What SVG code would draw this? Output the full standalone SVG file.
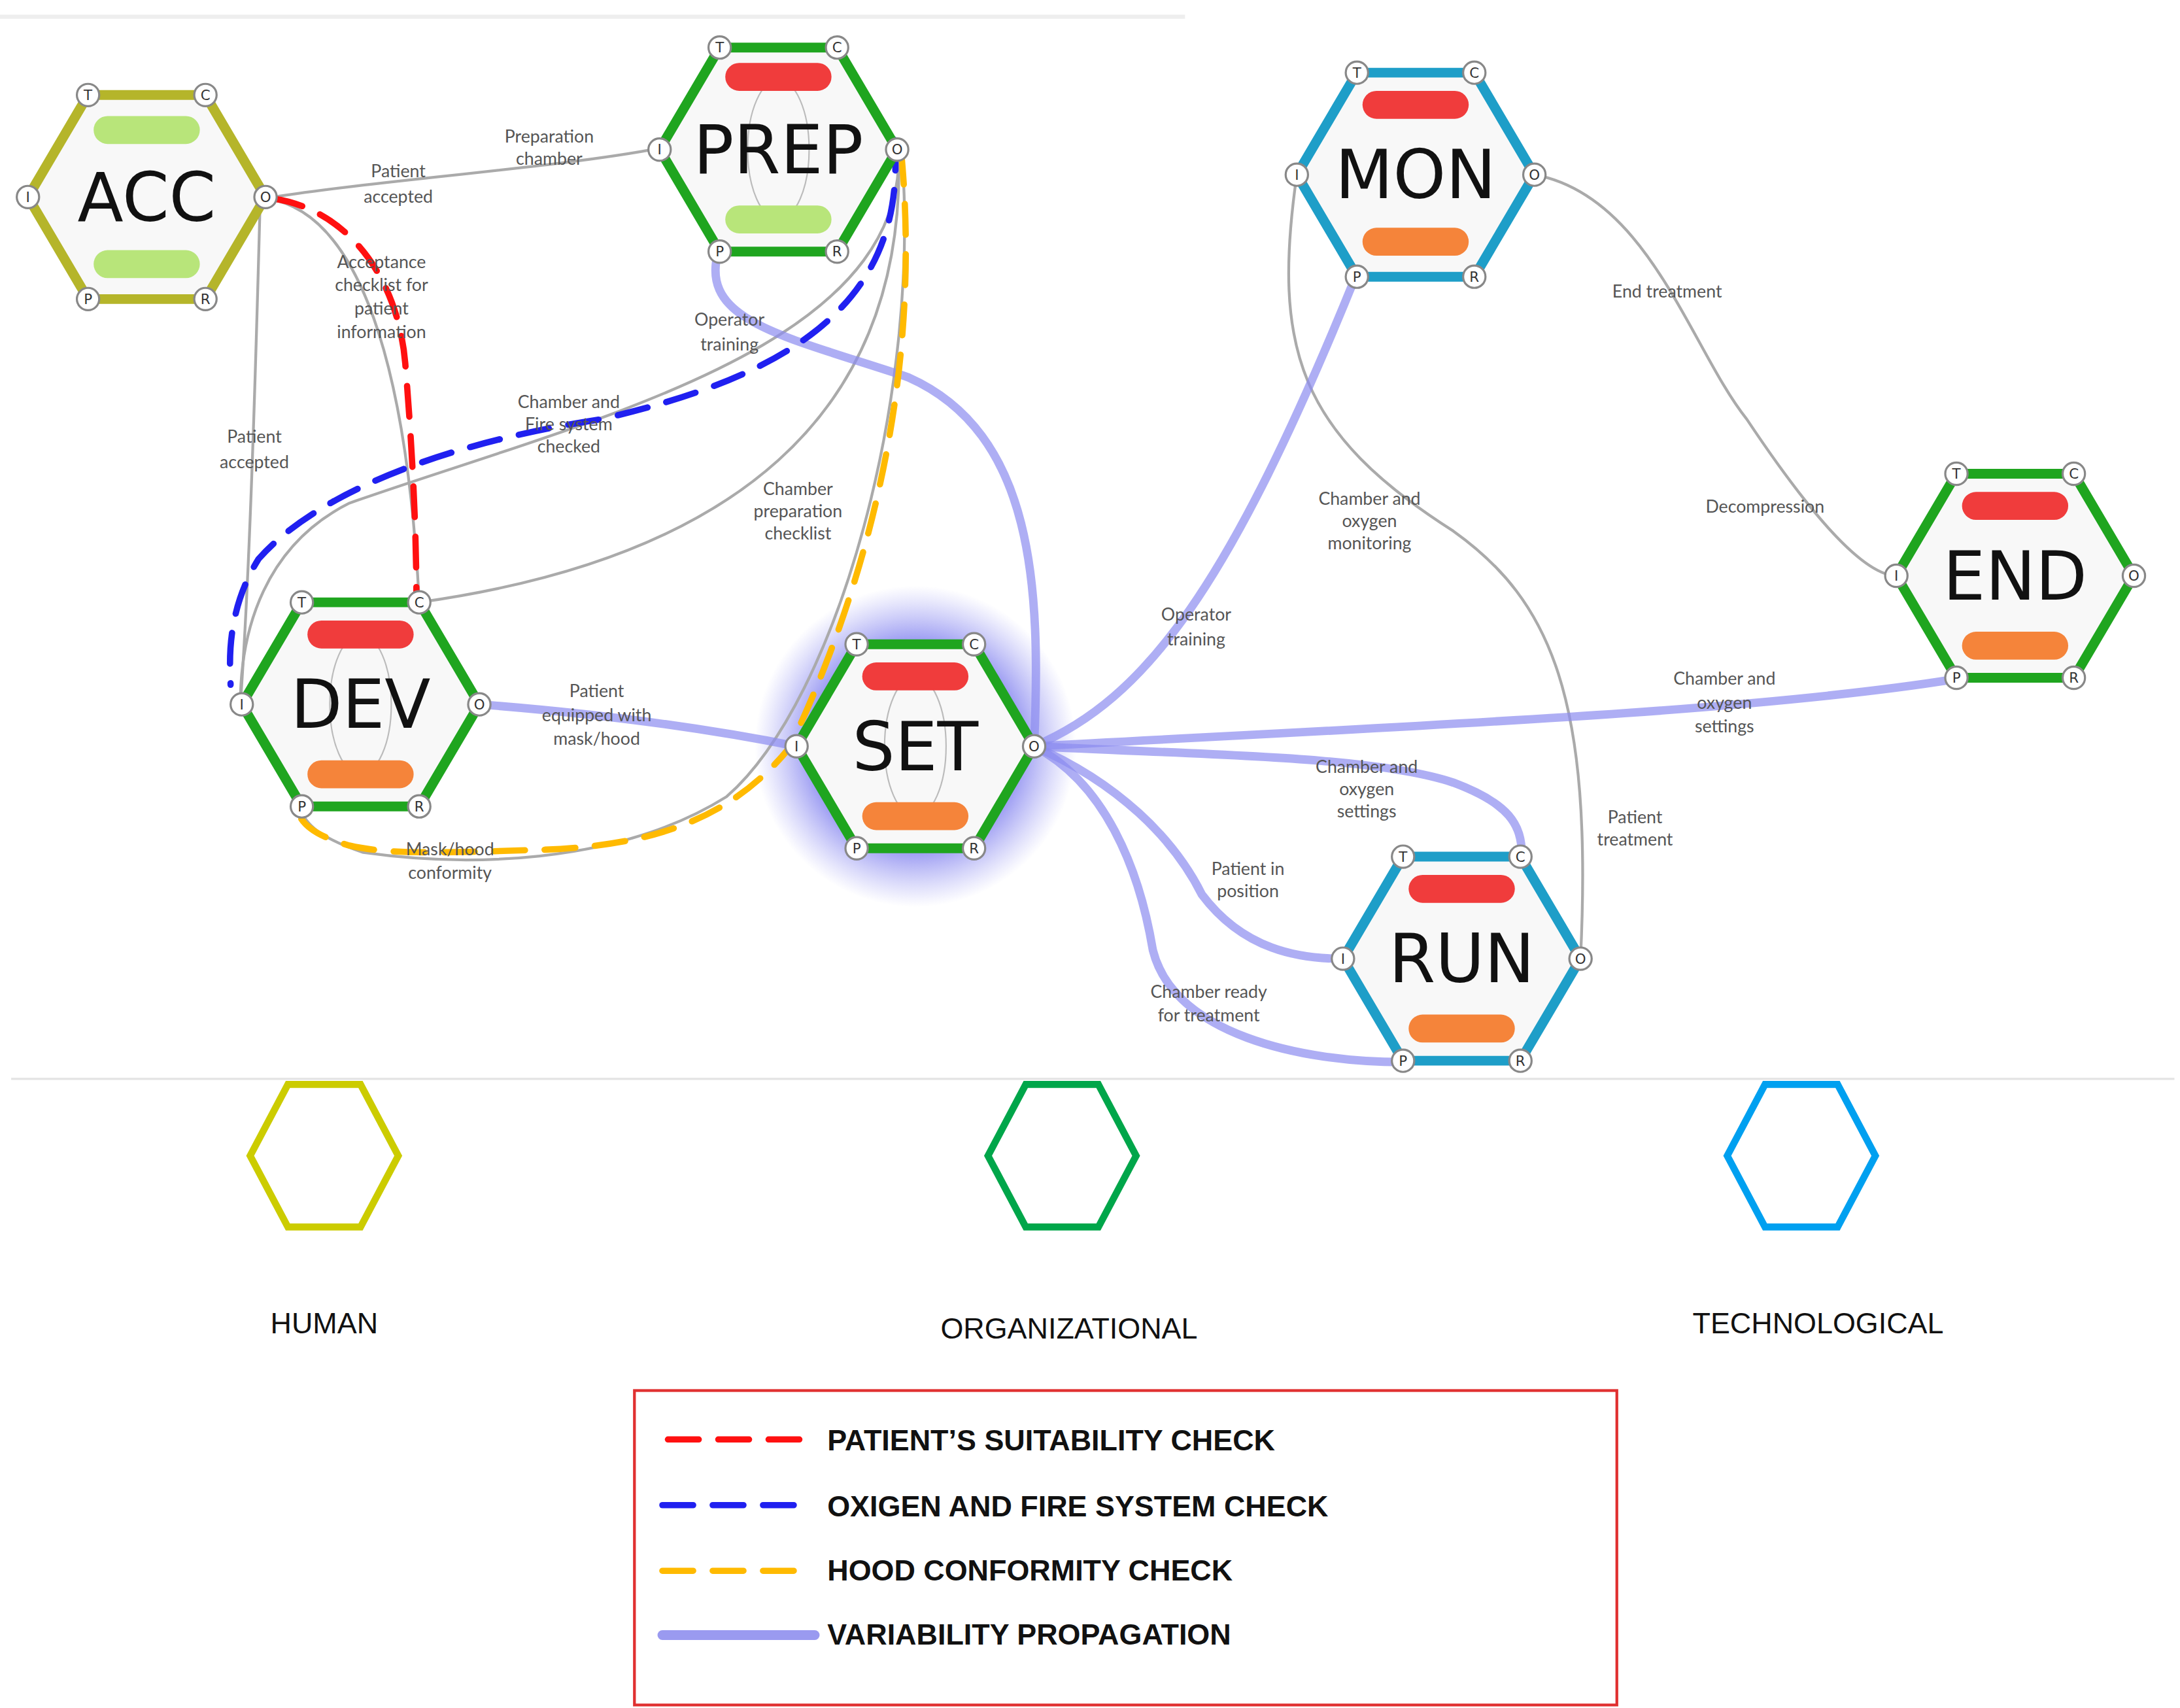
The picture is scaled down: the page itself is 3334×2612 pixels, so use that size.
<svg xmlns="http://www.w3.org/2000/svg" width="3334" height="2612" viewBox="0 0 3334 2612">
<defs>
<path id="hex" d="M-42,-73 L42,-73 L85,0 L42,73 L-42,73 L-85,0 Z"/>
<radialGradient id="glow"><stop offset="0.5" stop-color="#5050e8" stop-opacity="0.9"/><stop offset="1" stop-color="#8080f0" stop-opacity="0"/></radialGradient>
<g id="ports">
<circle cx="-42" cy="-73" r="8"/><text x="-42" y="-69.5">T</text>
<circle cx="42" cy="-73" r="8"/><text x="42" y="-69.5">C</text>
<circle cx="-85" cy="0" r="8"/><text x="-85" y="3.5">I</text>
<circle cx="85" cy="0" r="8"/><text x="85" y="3.5">O</text>
<circle cx="-42" cy="73" r="8"/><text x="-42" y="76.5">P</text>
<circle cx="42" cy="73" r="8"/><text x="42" y="76.5">R</text>
</g>
</defs>
<style>
.hx{fill:#f8f8f8;stroke-width:7;stroke-linejoin:miter}
.g{stroke:#1fa51f}.b{stroke:#1e9ec8}.o{stroke:#b5b52a}
#ports circle{fill:#fff;stroke:#888;stroke-width:1.5}
#ports text{font-family:"DejaVu Sans",sans-serif;font-size:10px;text-anchor:middle;fill:#333}
.nm{font-family:"DejaVu Sans",sans-serif;font-size:48px;text-anchor:middle;fill:#111}
.lb{font-family:"Lato","DejaVu Sans",sans-serif;font-size:12.5px;text-anchor:middle;fill:#555}
.gl{fill:none;stroke:#aaa;stroke-width:2}
.pl{fill:none;stroke:#8c8cf0;stroke-opacity:0.7;stroke-width:6;stroke-linecap:round}
.dash{fill:none;stroke-width:4.5;stroke-dasharray:22 14;stroke-linecap:round}
.lg{font-family:"Liberation Sans",Arial,sans-serif;font-size:21px;font-weight:bold;fill:#111}
.cat{font-family:"Liberation Sans",Arial,sans-serif;font-size:21px;fill:#111;text-anchor:middle}
.lens{fill:none;stroke:#bbb;stroke-width:1}
</style>
<rect width="3334" height="2612" fill="#fff"/>
<g transform="scale(2.1372)">
<line x1="0" y1="12" x2="848" y2="12" stroke="#eee" stroke-width="3"/>
<line x1="8" y1="772" x2="1556" y2="772" stroke="#e4e4e4" stroke-width="1.5"/>
<circle cx="655" cy="534" r="115" fill="url(#glow)"/>
<g id="connectors">
<path class="gl" d="M190,142 C260,130 400,120 472,106"/>
<path class="gl" d="M190,142 C250,150 290,240 300,431"/>
<path class="gl" d="M186,150 C182,300 178,420 172,504"/>
<path class="gl" d="M643,106 C650,300 520,400 300,431"/>
<path class="gl" d="M643,106 C650,250 420,300 250,360 C190,390 172,450 172,504"/>
<path class="gl" d="M645,106 C660,280 600,500 520,570 C440,620 330,620 260,610 C230,600 218,590 215,578"/>
<path class="gl" d="M928,125 C910,250 930,310 1040,380 C1110,430 1140,500 1131,686"/>
<path class="gl" d="M1098,125 C1180,140 1210,250 1250,300 C1290,360 1330,410 1356,412"/>
<path class="pl" d="M514,180 C500,230 560,240 650,270 C740,310 745,420 740,534"/>
<path class="pl" d="M343,504 C420,510 500,520 570,534"/>
<path class="pl" d="M740,534 C820,500 880,420 970,198"/>
<path class="pl" d="M740,534 C1000,520 1250,510 1399,486"/>
<path class="pl" d="M740,534 C850,540 980,540 1040,560 C1080,575 1089,590 1089,612"/>
<path class="pl" d="M740,534 C800,560 840,600 860,640 C890,680 930,686 960,686"/>
<path class="pl" d="M740,534 C790,560 815,620 825,680 C840,740 930,760 1004,760"/>
<path class="dash" stroke="#ff1010" d="M195,142 C250,150 285,200 290,260 C295,320 298,380 298,430"/>
<path class="dash" stroke="#2020f0" d="M640,100 C650,220 560,270 430,300 C300,320 220,360 185,400 C160,440 165,480 165,490"/>
<path class="dash" stroke="#ffba00" d="M645,110 C660,270 620,420 565,535 C520,590 460,605 390,608 C320,610 280,612 250,605 C225,598 218,590 215,585"/>
</g>
<g class="lb">
<text x="285" y="127">Patient</text><text x="285" y="145">accepted</text>
<text x="393" y="102">Preparation</text><text x="393" y="118">chamber</text>
<text x="273" y="192">Acceptance</text><text x="273" y="208">checklist for</text><text x="273" y="225">patient</text><text x="273" y="242">information</text>
<text x="182" y="317">Patient</text><text x="182" y="335">accepted</text>
<text x="522" y="233">Operator</text><text x="522" y="251">training</text>
<text x="407" y="292">Chamber and</text><text x="407" y="308">Fire system</text><text x="407" y="324">checked</text>
<text x="571" y="354">Chamber</text><text x="571" y="370">preparation</text><text x="571" y="386">checklist</text>
<text x="427" y="499">Patient</text><text x="427" y="516">equipped with</text><text x="427" y="533">mask/hood</text>
<text x="322" y="612">Mask/hood</text><text x="322" y="629">conformity</text>
<text x="856" y="444">Operator</text><text x="856" y="462">training</text>
<text x="980" y="361">Chamber and</text><text x="980" y="377">oxygen</text><text x="980" y="393">monitoring</text>
<text x="1193" y="213">End treatment</text>
<text x="1263" y="367">Decompression</text>
<text x="1234" y="490">Chamber and</text><text x="1234" y="507">oxygen</text><text x="1234" y="524">settings</text>
<text x="978" y="553">Chamber and</text><text x="978" y="569">oxygen</text><text x="978" y="585">settings</text>
<text x="1170" y="589">Patient</text><text x="1170" y="605">treatment</text>
<text x="893" y="626">Patient in</text><text x="893" y="642">position</text>
<text x="865" y="714">Chamber ready</text><text x="865" y="731">for treatment</text>
</g>
<g id="ACC" transform="translate(105,141)">
<use href="#hex" class="hx o"/>
<rect x="-38" y="-58" width="76" height="20" rx="10" fill="#b8e57a"/><rect x="-38" y="38" width="76" height="20" rx="10" fill="#b8e57a"/>
<text class="nm" y="17">ACC</text><use href="#ports"/>
</g>
<g id="PREP" transform="translate(557,107)">
<use href="#hex" class="hx g"/>
<ellipse class="lens" cx="0" cy="0" rx="22" ry="50"/>
<rect x="-38" y="-62" width="76" height="20" rx="10" fill="#f03c3c"/><rect x="-38" y="40" width="76" height="20" rx="10" fill="#b8e57a"/>
<text class="nm" y="17">PREP</text><use href="#ports"/>
</g>
<g id="MON" transform="translate(1013,125)">
<use href="#hex" class="hx b"/>
<rect x="-38" y="-60" width="76" height="20" rx="10" fill="#f03c3c"/><rect x="-38" y="38" width="76" height="20" rx="10" fill="#f5843a"/>
<text class="nm" y="17">MON</text><use href="#ports"/>
</g>
<g id="END" transform="translate(1442,412)">
<use href="#hex" class="hx g"/>
<rect x="-38" y="-60" width="76" height="20" rx="10" fill="#f03c3c"/><rect x="-38" y="40" width="76" height="20" rx="10" fill="#f5843a"/>
<text class="nm" y="17">END</text><use href="#ports"/>
</g>
<g id="DEV" transform="translate(258,504)">
<use href="#hex" class="hx g"/>
<ellipse class="lens" cx="0" cy="0" rx="22" ry="50"/>
<rect x="-38" y="-60" width="76" height="20" rx="10" fill="#f03c3c"/><rect x="-38" y="40" width="76" height="20" rx="10" fill="#f5843a"/>
<text class="nm" y="17">DEV</text><use href="#ports"/>
</g>
<g id="SET" transform="translate(655,534)">
<use href="#hex" class="hx g"/>
<ellipse class="lens" cx="0" cy="0" rx="22" ry="50"/>
<rect x="-38" y="-60" width="76" height="20" rx="10" fill="#f03c3c"/><rect x="-38" y="40" width="76" height="20" rx="10" fill="#f5843a"/>
<text class="nm" y="17">SET</text><use href="#ports"/>
</g>
<g id="RUN" transform="translate(1046,686)">
<use href="#hex" class="hx b"/>
<rect x="-38" y="-60" width="76" height="20" rx="10" fill="#f03c3c"/><rect x="-38" y="40" width="76" height="20" rx="10" fill="#f5843a"/>
<text class="nm" y="17">RUN</text><use href="#ports"/>
</g>
<g id="categories" fill="none" stroke-width="5">
<path d="M206,776 L258,776 L285,827 L258,878 L206,878 L179,827 Z" stroke="#cccc00"/>
<path d="M734,776 L786,776 L813,827 L786,878 L734,878 L707,827 Z" stroke="#00a64a"/>
<path d="M1263,776 L1315,776 L1342,827 L1315,878 L1263,878 L1236,827 Z" stroke="#00a0f0"/>
</g>
<text class="cat" x="232" y="954">HUMAN</text>
<text class="cat" x="765" y="958">ORGANIZATIONAL</text>
<text class="cat" x="1301" y="954">TECHNOLOGICAL</text>
<g id="legend">
<rect x="454" y="995" width="703" height="225" fill="none" stroke="#e03030" stroke-width="2"/>
<line class="dash" x1="478" y1="1030" x2="580" y2="1030" stroke="#ff1010" stroke-dasharray="24 16"/>
<line class="dash" x1="474" y1="1077" x2="580" y2="1077" stroke="#2020f0" stroke-dasharray="24 16"/>
<line class="dash" x1="474" y1="1124" x2="580" y2="1124" stroke="#ffba00" stroke-dasharray="24 16"/>
<line x1="474" y1="1170" x2="583" y2="1170" stroke="#9a9af0" stroke-width="7" stroke-linecap="round"/>
<text class="lg" x="592" y="1038">PATIENT’S SUITABILITY CHECK</text>
<text class="lg" x="592" y="1085">OXIGEN AND FIRE SYSTEM CHECK</text>
<text class="lg" x="592" y="1131">HOOD CONFORMITY CHECK</text>
<text class="lg" x="592" y="1177">VARIABILITY PROPAGATION</text>
</g>
</g>
</svg>
